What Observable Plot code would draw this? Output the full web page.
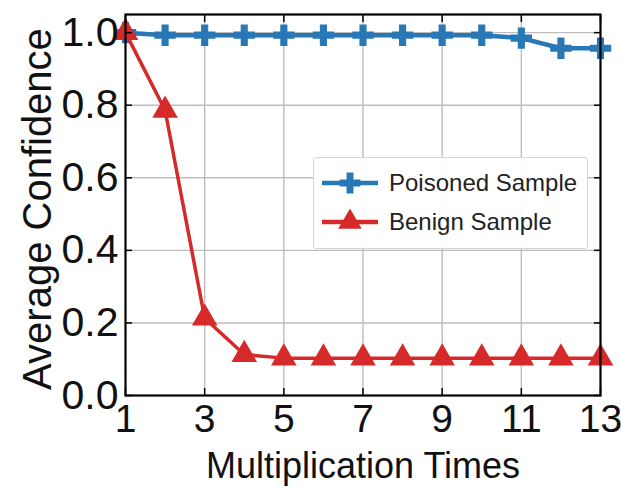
<!DOCTYPE html>
<html>
<head>
<meta charset="utf-8">
<script src="https://cdn.jsdelivr.net/npm/d3@7"></script>
<script src="https://cdn.jsdelivr.net/npm/@observablehq/plot@0.6"></script>
<style>
  html, body { margin: 0; padding: 0; background: #fff; }
  #wrap { position: relative; width: 621px; height: 492px; }
  #legend { position: absolute; left: 313px; top: 157px; width: 275px; height: 92px;
    border: 1px solid #d6d6d6; border-radius: 3px; background: rgba(255,255,255,0.93);
    font-family: "Liberation Sans", Arial, sans-serif; font-size: 24px; color: #222; box-sizing: border-box; }
  .item { position: absolute; left: 6px; display: flex; align-items: center; }
  .item svg { margin-right: 9px; }
</style>
</head>
<body>
<div id="wrap"></div>
<script>
const times = [1,2,3,4,5,6,7,8,9,10,11,12,13];
const poisoned = [1.0,0.993,0.993,0.993,0.993,0.993,0.993,0.993,0.993,0.993,0.985,0.957,0.957];
const benign = [1.0,0.786,0.213,0.113,0.103,0.103,0.103,0.103,0.103,0.103,0.103,0.103,0.103];
const xTicks = [1,3,5,7,9,11,13];
const yTicks = [0,0.2,0.4,0.6,0.8,1.0];
const seriesNames = ["Poisoned Sample","Benign Sample"];
const xLabel = "Multiplication Times";
const yLabel = "Average Confidence";
const colors = ["#2878b5","#d62a2a"];

const P = times.map((t,i)=>({t, v: poisoned[i], s: seriesNames[0]}));
const B = times.map((t,i)=>({t, v: benign[i], s: seriesNames[1]}));

const font = "'Liberation Sans', Arial, sans-serif";

const chart = Plot.plot({
  width: 621, height: 492,
  marginLeft: 125, marginRight: 21, marginTop: 14, marginBottom: 97,
  style: {fontFamily: font, background: "#fff", overflow: "visible"},
  x: {domain: [1,13]},
  y: {domain: [0,1.05]},
  marks: [
    Plot.gridX(xTicks.slice(1,-1), {stroke: "#bdbdbd", strokeOpacity: 1, strokeWidth: 1.4}),
    Plot.gridY(yTicks.slice(1), {stroke: "#bdbdbd", strokeOpacity: 1, strokeWidth: 1.4}),
    Plot.line(P, {x: "t", y: "v", stroke: colors[0], strokeWidth: 4.5}),
    Plot.dot(P, {x: "t", y: "v", symbol: "cross", fill: colors[0], r: 9}),
    Plot.line(B, {x: "t", y: "v", stroke: colors[1], strokeWidth: 3.5}),
    Plot.dot(B, {x: "t", y: "v", symbol: "triangle", fill: colors[1], r: 9.5}),
    Plot.axisX(xTicks, {anchor: "bottom", tickSize: -7, tickPadding: 16, fontSize: 39, label: null, stroke: "#000", strokeWidth: 1.5, fill: "#111"}),
    Plot.axisX(xTicks, {anchor: "top", tickSize: -7, text: null, label: null, stroke: "#000", strokeWidth: 1.5}),
    Plot.axisY(yTicks, {anchor: "left", tickSize: -7, tickPadding: 14, fontSize: 41, tickFormat: d3.format(".1f"), label: null, stroke: "#000", strokeWidth: 1.5, fill: "#111"}),
    Plot.axisY(yTicks, {anchor: "right", tickSize: -7, text: null, label: null, stroke: "#000", strokeWidth: 1.5}),
    Plot.text([xLabel], {frameAnchor: "bottom", dy: 82, lineAnchor: "bottom", fontSize: 36, fill: "#111"}),
    Plot.text([yLabel], {frameAnchor: "left", dx: -75, dy: 4, rotate: -90, textAnchor: "middle", lineAnchor: "bottom", fontSize: 40, fill: "#111"}),
    Plot.frame({stroke: "#000", strokeWidth: 2.2})
  ]
});
const wrap = document.getElementById("wrap");
wrap.appendChild(chart);

const legend = document.createElement("div");
legend.id = "legend";
seriesNames.forEach((name,i)=>{
  const item = document.createElement("div");
  item.className = "item";
  item.style.top = (i===0 ? 11 : 50) + "px";
  const svg = d3.create("svg").attr("width", 60).attr("height", 28);
  svg.append("line").attr("x1",2).attr("x2",58).attr("y1",14).attr("y2",14).attr("stroke",colors[i]).attr("stroke-width",4.5);
  svg.append("path").attr("transform","translate(30,14)").attr("d", d3.symbol(i===0?d3.symbolCross:d3.symbolTriangle, 240)()).attr("fill",colors[i]);
  item.appendChild(svg.node());
  const span = document.createElement("span");
  span.textContent = name;
  item.appendChild(span);
  legend.appendChild(item);
});
wrap.appendChild(legend);
</script>
</body>
</html>
